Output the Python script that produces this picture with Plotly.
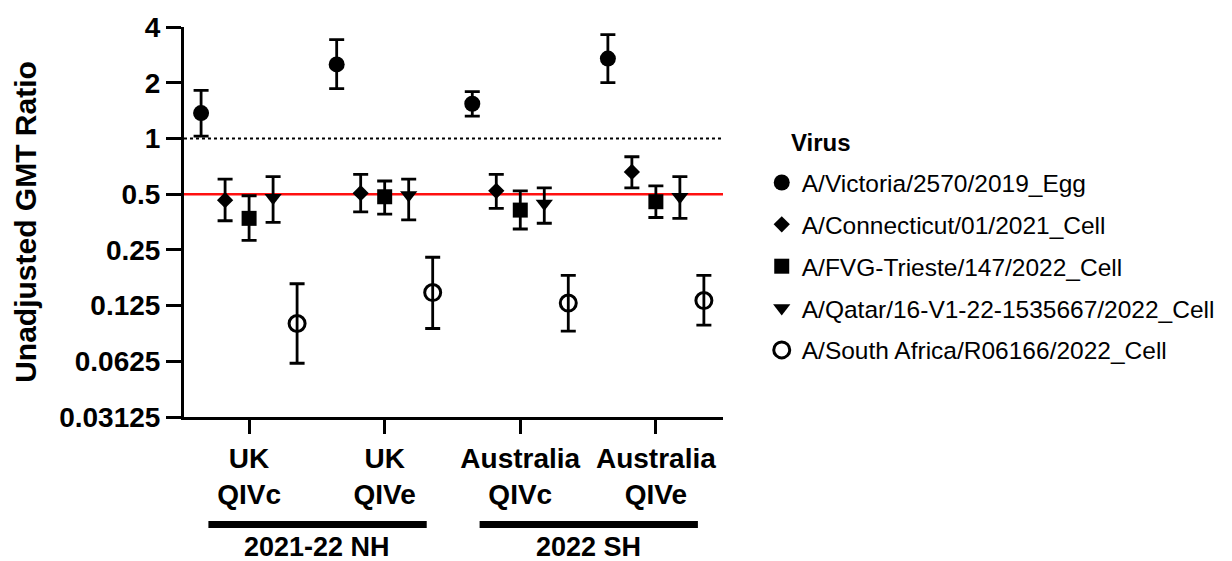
import plotly.graph_objects as go

# ---------------- data ----------------
categories = ["UK<br>QIVc", "UK<br>QIVe", "Australia<br>QIVc", "Australia<br>QIVe"]
groups = ["2021-22 NH", "2022 SH"]
group_members = [[0, 1], [2, 3]]
legend_title = "Virus"

viruses = [
    "A/Victoria/2570/2019_Egg",
    "A/Connecticut/01/2021_Cell",
    "A/FVG-Trieste/147/2022_Cell",
    "A/Qatar/16-V1-22-1535667/2022_Cell",
    "A/South Africa/R06166/2022_Cell",
]

victoria_gmt = [1.37, 2.51, 1.54, 2.70]
victoria_lo = [1.03, 1.86, 1.32, 2.00]
victoria_hi = [1.82, 3.42, 1.79, 3.64]

connecticut_gmt = [0.464, 0.506, 0.521, 0.659]
connecticut_lo = [0.359, 0.401, 0.419, 0.540]
connecticut_hi = [0.602, 0.640, 0.640, 0.796]

fvg_gmt = [0.370, 0.484, 0.410, 0.455]
fvg_lo = [0.281, 0.390, 0.324, 0.374]
fvg_hi = [0.490, 0.589, 0.521, 0.554]

qatar_gmt = [0.478, 0.494, 0.445, 0.484]
qatar_lo = [0.352, 0.363, 0.348, 0.370]
qatar_hi = [0.622, 0.602, 0.540, 0.622]

safrica_gmt = [0.100, 0.147, 0.129, 0.133]
safrica_lo = [0.061, 0.094, 0.091, 0.098]
safrica_hi = [0.164, 0.228, 0.182, 0.182]

y_ticks = [0.03125, 0.0625, 0.125, 0.25, 0.5, 1, 2, 4]
y_ticktext = ["0.03125", "0.0625", "0.125", "0.25", "0.5", "1", "2", "4"]
ref_equal = 1.0
ref_threshold = 0.5

# ---------------- styling ----------------
series = [
    (victoria_gmt, victoria_lo, victoria_hi, dict(symbol="circle", size=16, color="black")),
    (connecticut_gmt, connecticut_lo, connecticut_hi, dict(symbol="diamond", size=12.5, color="black")),
    (fvg_gmt, fvg_lo, fvg_hi, dict(symbol="square", size=15, color="black")),
    (qatar_gmt, qatar_lo, qatar_hi, dict(symbol="triangle-down", size=15, color="black")),
    (safrica_gmt, safrica_lo, safrica_hi, dict(symbol="circle-open", size=16, color="black",
                                               line=dict(width=3, color="black"))),
]

FONT = "Arial, Liberation Sans, sans-serif"
W, H = 1232, 561
L, R_EDGE, T, B_EDGE = 183.5, 740.0, 24.0, 416.7
plot_w = R_EDGE - L
plot_h = B_EDGE - T


def px_x(p):
    return (p - L) / plot_w


def px_y(p):
    return (B_EDGE - p) / plot_h


slot = 0.177
x_pos = list(range(len(categories)))
x_range = [-0.48, 3.495]

fig = go.Figure()

# reference lines (drawn through data scales)
fig.add_trace(go.Scatter(x=x_range, y=[ref_equal, ref_equal], mode="lines",
                         line=dict(color="black", width=2, dash="dot"),
                         showlegend=False, hoverinfo="skip"))
fig.add_trace(go.Scatter(x=x_range, y=[ref_threshold, ref_threshold], mode="lines",
                         line=dict(color="#ff1010", width=2.5),
                         showlegend=False, hoverinfo="skip"))

for j, (name, (gmt, lo, hi, mk)) in enumerate(zip(viruses, series)):
    xs = [x + (j - 2) * slot for x in x_pos]
    fig.add_trace(go.Scatter(
        x=xs, y=gmt, mode="markers", name=name, legendgroup=name,
        marker=mk,
        error_y=dict(type="data", symmetric=False,
                     array=[h - g for h, g in zip(hi, gmt)],
                     arrayminus=[g - l for g, l in zip(gmt, lo)],
                     color="black", thickness=2.8, width=7.5),
    ))

# group bars and labels under the x axis
for gname, members in zip(groups, group_members):
    x0 = x_pos[members[0]] - 0.30
    x1 = x_pos[members[-1]] + 0.31
    fig.add_shape(type="line", xref="x", yref="paper", x0=x0, x1=x1,
                  y0=px_y(525), y1=px_y(525), line=dict(color="black", width=7))
    fig.add_annotation(x=(x_pos[members[0]] + x_pos[members[-1]]) / 2, y=px_y(548),
                       xref="x", yref="paper", text=gname, showarrow=False,
                       font=dict(family=FONT, size=27, color="black", weight="bold"),
                       yanchor="middle")

# legend title
fig.add_annotation(x=px_x(808), y=px_y(140), xref="paper", yref="paper",
                   text=legend_title, showarrow=False, xanchor="left", yanchor="middle",
                   font=dict(family=FONT, size=24, color="black", weight="bold"))

fig.update_layout(
    width=W, height=H,
    margin=dict(l=L, r=W - R_EDGE, t=T, b=H - B_EDGE),
    plot_bgcolor="white", paper_bgcolor="white",
    font=dict(family=FONT, color="black"),
    showlegend=True,
    legend=dict(
        font=dict(family=FONT, size=24.5, color="black"),
        x=px_x(780), xanchor="left",
        y=px_y(158), yanchor="top",
        tracegroupgap=7, itemsizing="trace", bgcolor="rgba(0,0,0,0)",
    ),
    xaxis=dict(
        range=x_range, tickvals=x_pos, ticktext=categories,
        showline=True, linecolor="black", linewidth=3,
        ticks="outside", ticklen=14, tickwidth=3, tickcolor="black",
        tickfont=dict(family=FONT, size=28, color="black", weight="bold"),
        showgrid=False, zeroline=False,
    ),
    yaxis=dict(
        type="log", range=[-1.50515, 0.60206],
        tickvals=y_ticks, ticktext=y_ticktext,
        showline=True, linecolor="black", linewidth=3,
        ticks="outside", ticklen=15, tickwidth=3, tickcolor="black",
        tickfont=dict(family=FONT, size=28, color="black", weight="bold"),
        showgrid=False, zeroline=False,
        title=dict(text="Unadjusted GMT Ratio", standoff=14,
                   font=dict(family=FONT, size=30, color="black", weight="bold")),
    ),
)

# remove the browser's default 8px page margin so the figure sits at the top-left corner
fig.write_html("out.html",
               config={"displayModeBar": False},
               post_script="document.body.style.margin='0';document.body.style.overflow='hidden';")
